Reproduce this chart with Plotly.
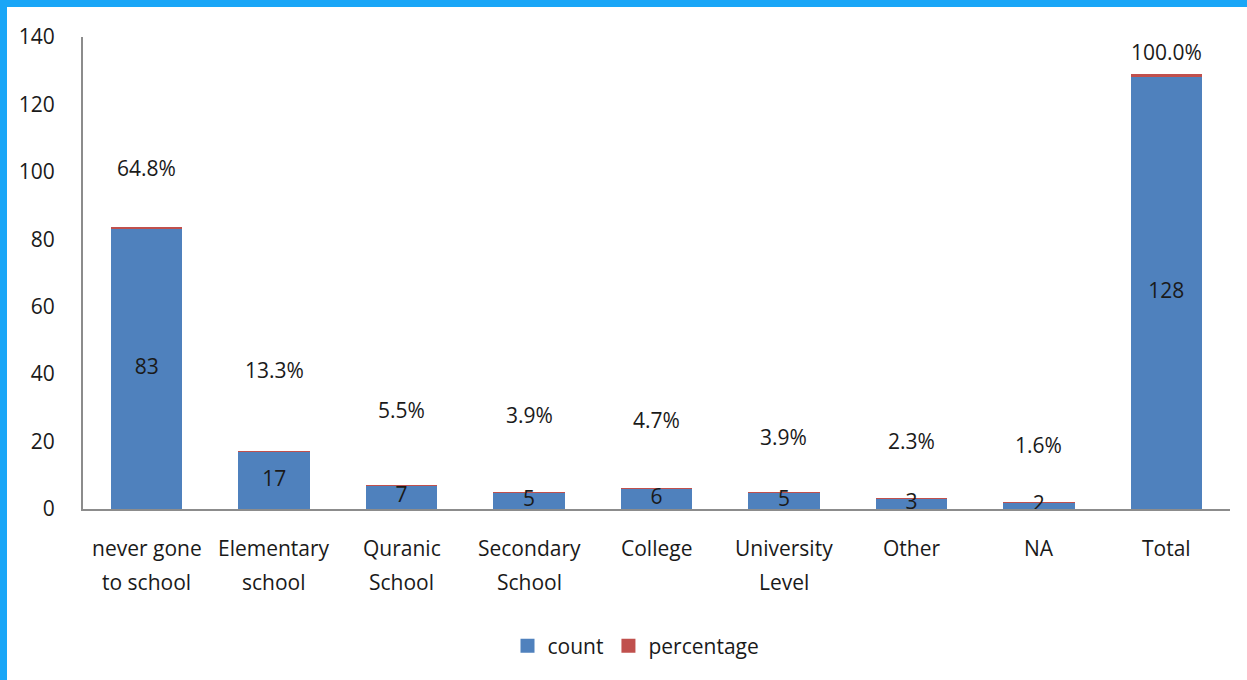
import plotly.graph_objects as go

# Education level of respondents: counts and share of the total
categories = ["never gone\nto school", "Elementary\nschool", "Quranic\nSchool",
              "Secondary\nSchool", "College", "University\nLevel", "Other", "NA", "Total"]
count = [83, 17, 7, 5, 6, 5, 3, 2, 128]
percentage = [0.648, 0.133, 0.055, 0.039, 0.047, 0.039, 0.023, 0.016, 1.000]
y_ticks = [0, 20, 40, 60, 80, 100, 120, 140]

BLUE = "#4f81bd"
RED = "#c0504d"
FRAME = "#1aa6f7"
FONT = "Open Sans"
TXT = "#1a1a1a"

W, H = 1247, 680
ML, MR, MT, MB = 83, 17, 37, 171
PW, PH = W - ML - MR, H - MT - MB

x = list(range(len(categories)))

fig = go.Figure()
fig.add_trace(go.Bar(x=x, y=count, name="count", marker_color=BLUE,
                     marker_line_width=0, showlegend=False))
fig.add_trace(go.Bar(x=x, y=percentage, name="percentage", marker_color=RED,
                     marker_line_width=0, showlegend=False))

# count labels centred in the blue bars
fig.add_trace(go.Scatter(x=x, y=[c / 2 for c in count], mode="text",
                         text=[str(c) for c in count], showlegend=False,
                         textfont=dict(family=FONT, size=21, color=TXT),
                         hoverinfo="skip"))

# legend entries with larger square swatches
for name, col in (("count", BLUE), ("percentage", RED)):
    fig.add_trace(go.Scatter(x=[None], y=[None], mode="markers", name=name,
                             marker=dict(symbol="square", size=14, color=col),
                             showlegend=True))

annotations = []
# percentage labels floating above each stack (pixel lift per bar)
lift = [59, 81, 75, 77, 69, 55, 58, 57, 22]
for i, (c, p) in enumerate(zip(count, percentage)):
    annotations.append(dict(x=i, y=c + p, xref="x", yref="y",
                            text=f"{p * 100:.1f}%", showarrow=False,
                            yanchor="middle", yshift=lift[i],
                            font=dict(family=FONT, size=21, color=TXT)))

# category labels, one annotation per line
for i, cat in enumerate(categories):
    for j, line in enumerate(cat.split("\n")):
        annotations.append(dict(x=i, y=0, xref="x", yref="y", text=line,
                                showarrow=False, yanchor="middle",
                                yshift=-39 - 34 * j,
                                font=dict(family=FONT, size=21, color=TXT)))

# blue frame along the top and left edges of the image
shapes = [
    dict(type="rect", xref="paper", yref="paper",
         x0=-ML / PW, x1=-(ML - 7) / PW, y0=-MB / PH, y1=1 + MT / PH,
         fillcolor=FRAME, line_width=0, layer="above"),
    dict(type="rect", xref="paper", yref="paper",
         x0=-ML / PW, x1=1 + MR / PW, y0=1 + (MT - 7) / PH, y1=1 + MT / PH,
         fillcolor=FRAME, line_width=0, layer="above"),
]

fig.update_layout(
    width=W, height=H,
    margin=dict(l=ML, r=MR, t=MT, b=MB, pad=0),
    barmode="stack", bargap=0.44,
    paper_bgcolor="white", plot_bgcolor="white",
    font=dict(family=FONT, size=21, color=TXT),
    xaxis=dict(range=[-0.5, len(categories) - 0.5], tickvals=x,
               showticklabels=False, showgrid=False, zeroline=False,
               showline=True, linecolor="#8c8c8c", linewidth=2, ticks=""),
    yaxis=dict(range=[0, 140], tickvals=y_ticks, showgrid=False,
               zeroline=False, showline=True, linecolor="#8c8c8c",
               linewidth=2, ticks="", ticklabelstandoff=22,
               tickfont=dict(family=FONT, size=21, color=TXT)),
    legend=dict(orientation="h", x=(636 - ML) / PW, xanchor="center",
                y=(509 - 646) / PH, yanchor="middle", traceorder="normal",
                font=dict(family=FONT, size=21, color=TXT),
                itemwidth=30, tracegroupgap=0),
    annotations=annotations,
    shapes=shapes,
    showlegend=True,
)

fig.write_html("out.html")
